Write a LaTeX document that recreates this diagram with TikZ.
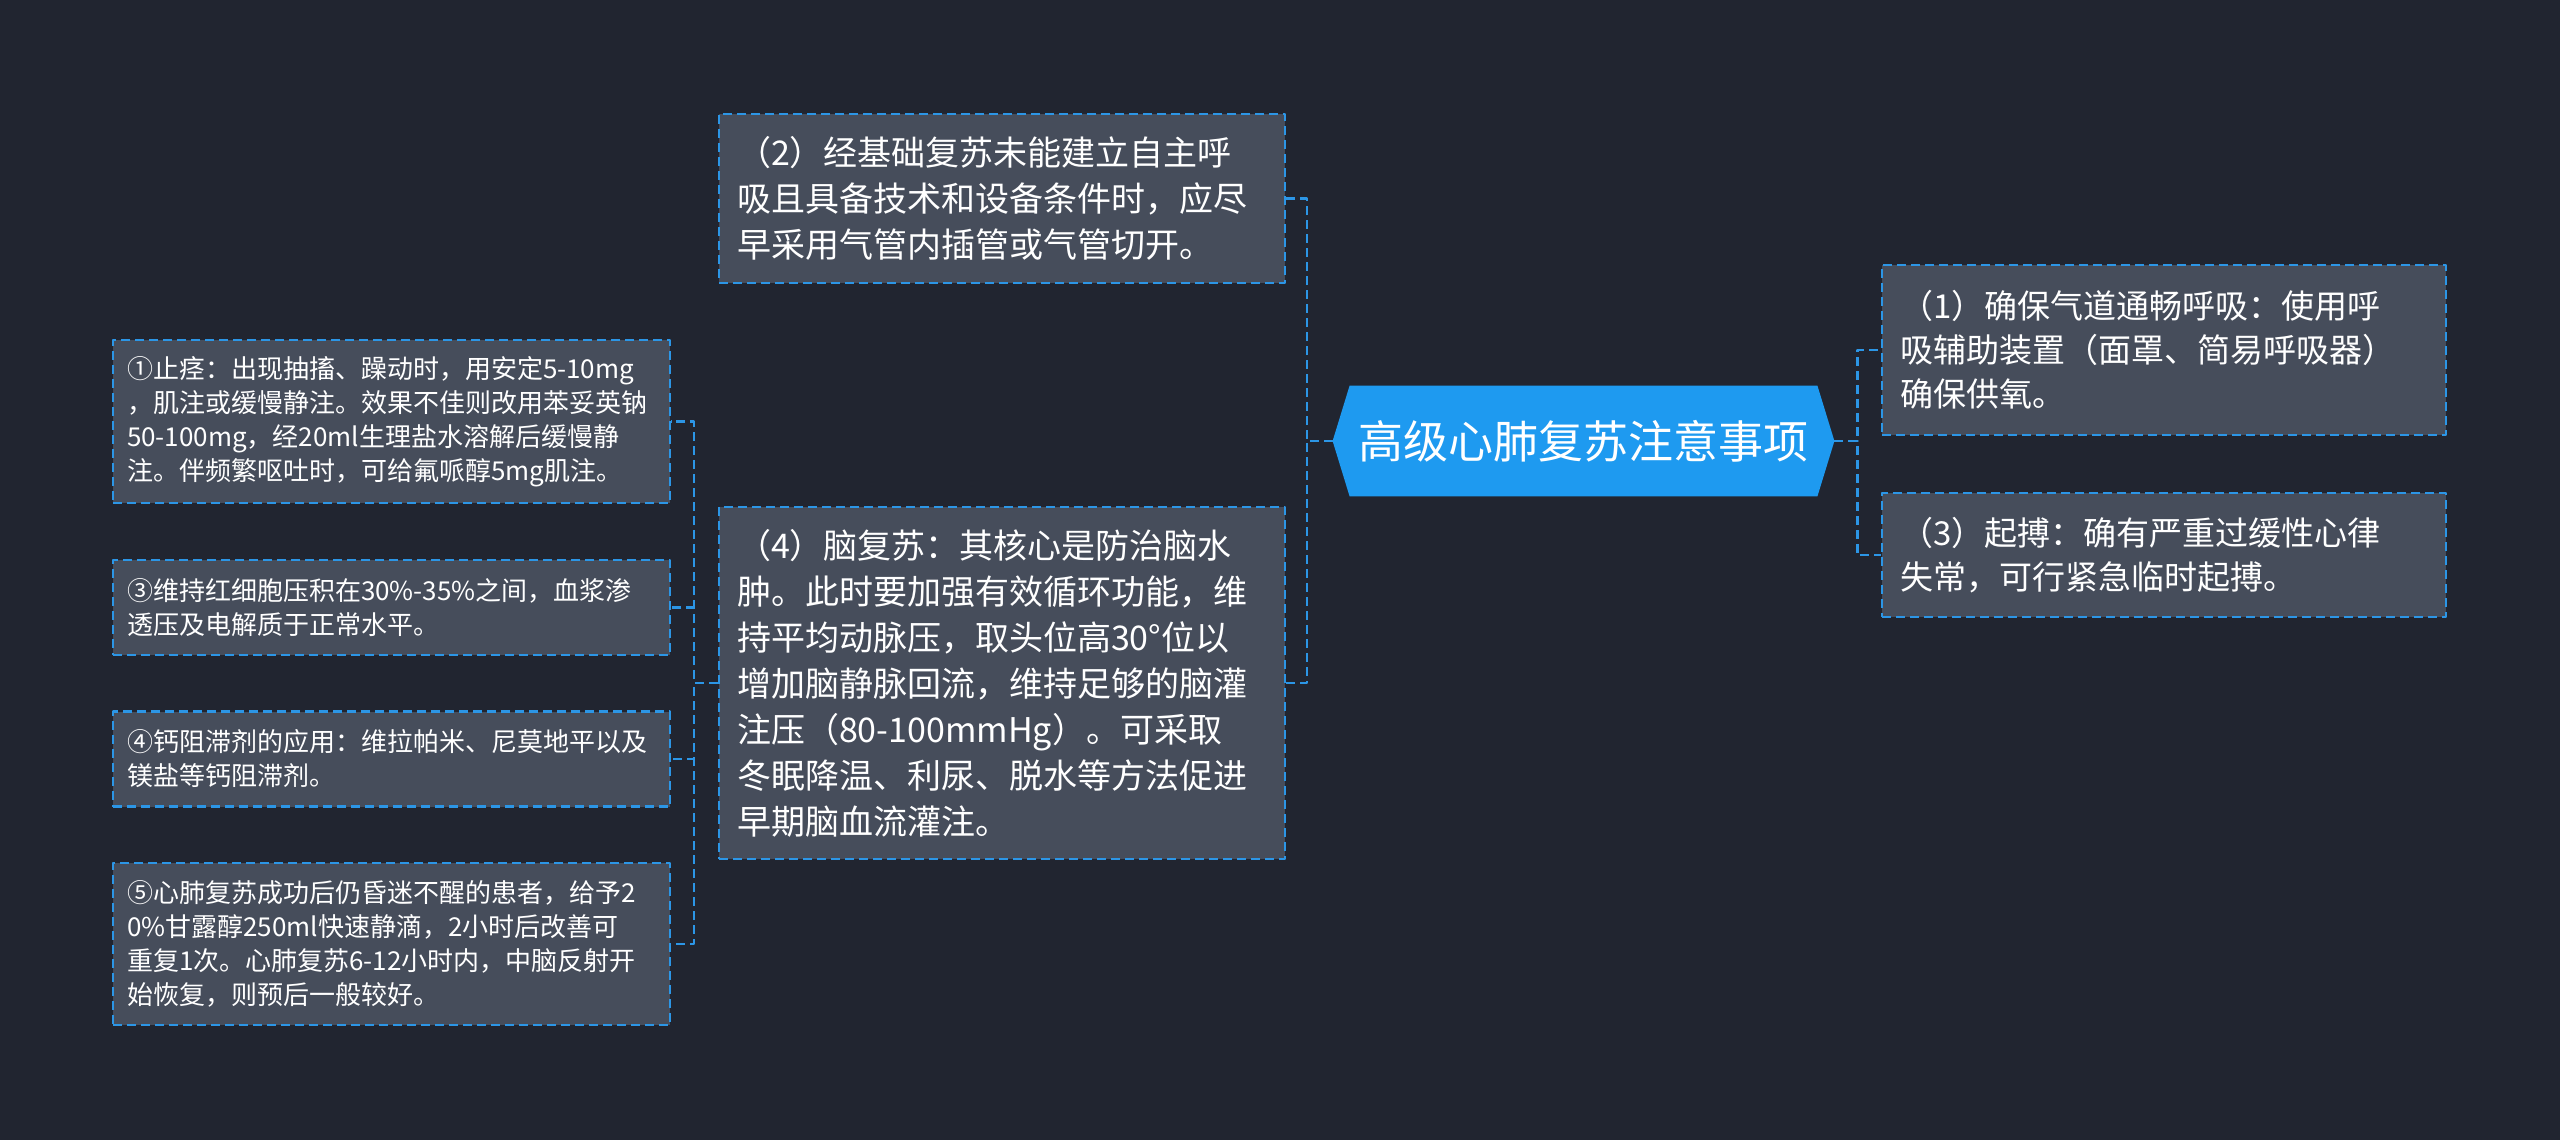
\documentclass[tikz,border=0pt]{standalone}
\usepackage{fontspec}
\setmainfont{Noto Sans CJK SC}
\definecolor{pagebg}{HTML}{212530}
\definecolor{boxgrey}{HTML}{464D5B}
\definecolor{linkblue}{HTML}{2C96E6}
\definecolor{rootblue}{HTML}{1E9AF0}
\pgfdeclarelayer{back}
\pgfsetlayers{back,main}
\begin{document}
\begin{tikzpicture}[x=0.5pt,y=-0.5pt,line join=round,text=white]
	\tikzset{box/.style={draw=linkblue,fill=boxgrey,line width=1.1pt,dash pattern=on 4.5pt off 2.5pt,align=left,inner ysep=0pt},
		mid/.style={box,inner xsep=9pt,text width=265pt,font=\fontsize{17pt}{23pt}\selectfont},
		side/.style={box,inner xsep=9pt,text width=264pt,font=\fontsize{16.5pt}{22pt}\selectfont},
		small/.style={box,inner xsep=7pt,text width=264.5pt,font=\fontsize{13pt}{17pt}\selectfont},
		link/.style={draw=linkblue,line width=1.1pt,dash pattern=on 4.5pt off 2.5pt}}
	\begin{pgfonlayer}{back}
		\fill[pagebg] (0,0) rectangle (2560,1140);
	\end{pgfonlayer}
	\node[inner sep=0pt,minimum width=250.5pt,minimum height=55pt,font=\fontsize{22.5pt}{27pt}\selectfont] (root) at (1583.5,441) {高级心肺复苏注意事项};
	\begin{pgfonlayer}{back}
		\fill[rootblue] ([xshift=8.5pt]root.north west)--([xshift=-8.5pt]root.north east)--(root.east)--([xshift=-8.5pt]root.south east)--([xshift=8.5pt]root.south west)--(root.west)--cycle;
	\end{pgfonlayer}
	\node[mid,minimum height=84.5pt] (b2) at (1002,198.5) {（2）经基础复苏未能建立自主呼\\吸且具备技术和设备条件时，应尽\\早采用气管内插管或气管切开。};
	\node[mid,minimum height=176pt] (b4) at (1002,683) {（4）脑复苏：其核心是防治脑水\\肿。此时要加强有效循环功能，维\\持平均动脉压，取头位高30°位以\\增加脑静脉回流，维持足够的脑灌\\注压（80-100mmHg）。可采取\\冬眠降温、利尿、脱水等方法促进\\早期脑血流灌注。};
	\node[side,minimum height=85pt] (b1) at (2164,350) {（1）确保气道通畅呼吸：使用呼\\吸辅助装置（面罩、简易呼吸器）\\确保供氧。};
	\node[side,minimum height=62pt] (b3) at (2164,555) {（3）起搏：确有严重过缓性心律\\失常，可行紧急临时起搏。};
	\node[small,minimum height=81.5pt] (c1) at (391.5,421.5) {①止痉：出现抽搐、躁动时，用安定5-10mg\\，肌注或缓慢静注。效果不佳则改用苯妥英钠\\50-100mg，经20ml生理盐水溶解后缓慢静\\注。伴频繁呕吐时，可给氟哌醇5mg肌注。};
	\node[small,minimum height=47.5pt] (c3) at (391.5,607.5) {③维持红细胞压积在30\%-35\%之间，血浆渗\\透压及电解质于正常水平。};
	\node[small,minimum height=47.5pt] (c4) at (391.5,759) {④钙阻滞剂的应用：维拉帕米、尼莫地平以及\\镁盐等钙阻滞剂。};
	\node[small,minimum height=81pt] (c5) at (391.5,944) {⑤心肺复苏成功后仍昏迷不醒的患者，给予2\\0\%甘露醇250ml快速静滴，2小时后改善可\\重复1次。心肺复苏6-12小时内，中脑反射开\\始恢复，则预后一般较好。};
	\foreach \b in {b2,b4}
	\draw[link] (root.west)--++(-26,0)|-(\b.east);
	\foreach \b in {b1,b3}
	\draw[link] (root.east)--++(23,0)|-(\b.west);
	\foreach \c in {c1,c3,c4,c5}
	\draw[link] (b4.west)--++(-24,0)|-(\c.east);
\end{tikzpicture}
\end{document}
